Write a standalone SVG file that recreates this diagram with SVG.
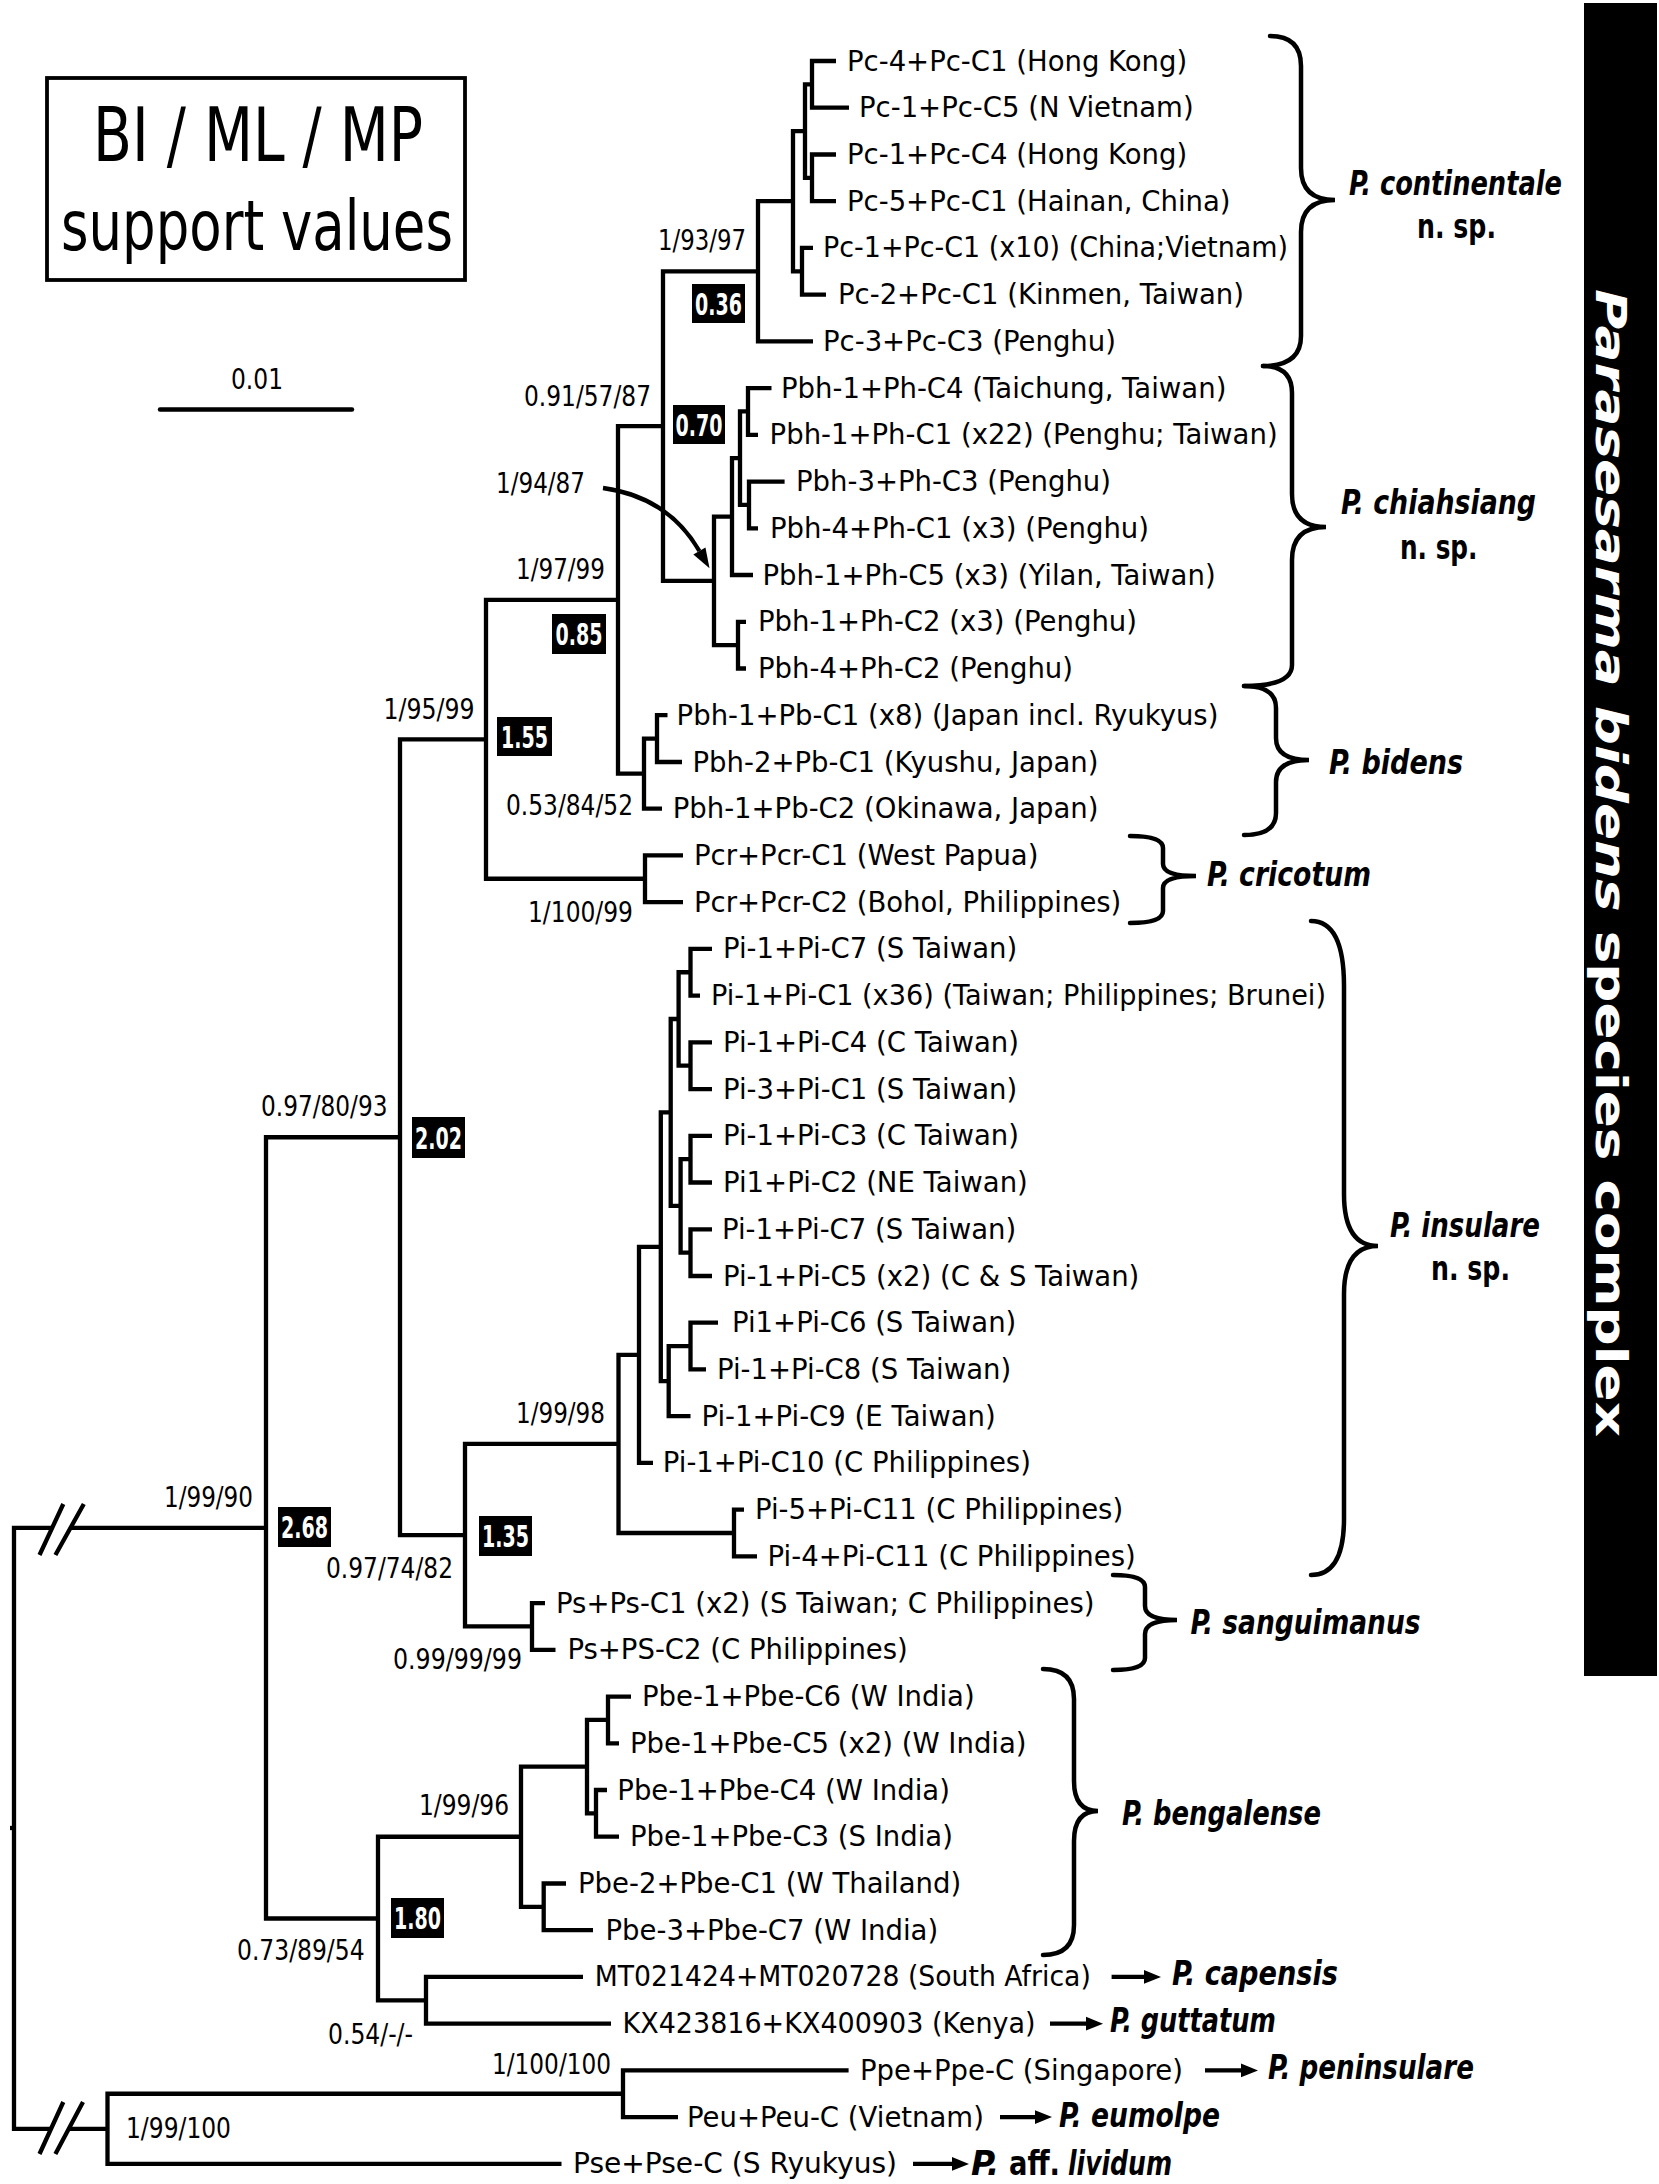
<svg xmlns="http://www.w3.org/2000/svg" width="1659" height="2184" viewBox="0 0 1659 2184">
<style>
.br{fill:none;stroke:#000;stroke-width:4.3;stroke-linejoin:miter}
.brace{fill:none;stroke:#000;stroke-width:4.5;stroke-linecap:round}
.tip{font-family:"DejaVu Sans","Liberation Sans",sans-serif;font-size:27.5px;fill:#000}
.sv{font-family:"DejaVu Sans Condensed","DejaVu Sans",sans-serif;font-size:28px;fill:#000}
.bx{fill:#000}
.bxt{font-family:"DejaVu Sans Condensed","DejaVu Sans",sans-serif;font-size:31px;font-weight:bold;fill:#fff;text-anchor:middle}
.sp{font-family:"DejaVu Sans","Liberation Sans",sans-serif;font-size:33px;font-weight:bold;font-style:italic;fill:#000}
.nsp{font-family:"DejaVu Sans","Liberation Sans",sans-serif;font-size:33px;font-weight:bold;fill:#000}
.leg{font-family:"DejaVu Sans Condensed","DejaVu Sans",sans-serif;fill:#000;text-anchor:middle}
</style>

<g id="legend">
<rect x="47" y="78" width="418" height="202" fill="none" stroke="#000" stroke-width="3.8"/>
<text class="leg" x="258" y="161" font-size="74" textLength="330" lengthAdjust="spacingAndGlyphs">BI / ML / MP</text>
<text class="leg" x="257" y="250" font-size="70" textLength="392" lengthAdjust="spacingAndGlyphs">support values</text>
</g>

<g id="scalebar">
<line x1="160" y1="409.6" x2="352" y2="409.6" stroke="#000" stroke-width="4.5" stroke-linecap="round"/>
<text class="sv" x="231" y="388.6" font-size="30" textLength="52" lengthAdjust="spacingAndGlyphs">0.01</text>
</g>

<g id="complex-bar">
<rect x="1584" y="3" width="73" height="1673" fill="#000"/>
<text transform="rotate(90)" x="289" y="-1596" font-family="DejaVu Sans, Liberation Sans, sans-serif" font-size="42" font-weight="bold" fill="#fff" textLength="1148" lengthAdjust="spacingAndGlyphs"><tspan font-style="italic">Parasesarma bidens</tspan> species complex</text>
</g>

<g id="connectors">
<path class="br" d="M836,61 H812 V107.7 H849"/>
<path class="br" d="M836,154.5 H812 V201.2 H836"/>
<path class="br" d="M812,84.35 H805 V177.85 H812"/>
<path class="br" d="M813,247.9 H802 V294.7 H826"/>
<path class="br" d="M805,131.1 H793 V271.3 H802"/>
<path class="br" d="M793,201.2 H758 V341.4 H813"/>
<path class="br" d="M771.5,388.1 H748 V434.8 H758"/>
<path class="br" d="M784.6,481.6 H749 V528.3 H758"/>
<path class="br" d="M748,411.45 H740 V504.95 H749"/>
<path class="br" d="M740,458.2 H732 V575 H753"/>
<path class="br" d="M746,621.8 H738 V668.5 H746"/>
<path class="br" d="M732,516.6 H714 V645.15 H738"/>
<path class="br" d="M758,271.3 H663 V580.9 H714"/>
<path class="br" d="M667.5,715.2 H657 V762 H682"/>
<path class="br" d="M657,738.6 H644 V808.7 H662"/>
<path class="br" d="M663,426.1 H618 V773.65 H644"/>
<path class="br" d="M683,855.4 H645 V902.1 H683"/>
<path class="br" d="M618,599.9 H486 V878.75 H645"/>
<path class="br" d="M712,948.9 H690.5 V995.6 H700"/>
<path class="br" d="M712,1042.3 H690.5 V1089.1 H712"/>
<path class="br" d="M690.5,972.25 H678.6 V1065.7 H690.5"/>
<path class="br" d="M712,1135.8 H690.5 V1182.5 H712"/>
<path class="br" d="M712,1229.3 H690.5 V1276 H712"/>
<path class="br" d="M690.5,1159.15 H680.6 V1252.65 H690.5"/>
<path class="br" d="M678.6,1018.98 H670.7 V1205.9 H680.6"/>
<path class="br" d="M718,1322.7 H690.5 V1369.4 H706"/>
<path class="br" d="M690.5,1346.05 H668.7 V1416.2 H690.5"/>
<path class="br" d="M670.7,1112.44 H660.8 V1381.1 H668.7"/>
<path class="br" d="M660.8,1246.8 H639 V1462.9 H653"/>
<path class="br" d="M744,1509.6 H734 V1556.4 H757"/>
<path class="br" d="M639,1354.85 H618.5 V1533 H734"/>
<path class="br" d="M545,1603.1 H532 V1649.8 H555.5"/>
<path class="br" d="M618.5,1443.9 H465 V1626.45 H532"/>
<path class="br" d="M486,739.3 H400 V1535.2 H465"/>
<path class="br" d="M631,1696.6 H608 V1743.3 H619"/>
<path class="br" d="M607,1790 H596 V1836.7 H619"/>
<path class="br" d="M608,1719.95 H587 V1813.35 H596"/>
<path class="br" d="M566,1883.5 H543.7 V1930.2 H593"/>
<path class="br" d="M587,1766.65 H521 V1906.85 H543.7"/>
<path class="br" d="M583,1976.9 H426 V2023.7 H611"/>
<path class="br" d="M521,1836.75 H378 V2000.3 H426"/>
<path class="br" d="M400,1137.25 H266 V1918.5 H378"/>
<path class="br" d="M848.6,2070.4 H623 V2117.1 H678"/>
<path class="br" d="M623,2093.75 H107.5 V2163.9 H561.5"/>
<path class="br" d="M70,1527.9 H266"/>
<path class="br" d="M52,1527.9 H14 V2128.8 H51"/>
<path class="br" d="M68.8,2128.8 H107.5"/>
<path class="br" d="M10,1828 H14"/>
<path class="br" d="M39.5,1555 L63.3,1504 M55.4,1555 L83.8,1504 M39.5,2154 L63.3,2102 M55.4,2154 L83,2102"/>
<path class="br" d="M603,488 Q668,497 699.4,551"/>
<polygon points="709.5,568.3 693.35,554.5 705.45,547.5" fill="#000"/>
<path class="br" d="M1111.6,1976.9 H1146"/>
<polygon points="1161,1976.9 1144,1970 1144,1983.8" fill="#000"/>
<path class="br" d="M1050,2023.7 H1088"/>
<polygon points="1103,2023.7 1086,2016.8 1086,2030.6" fill="#000"/>
<path class="br" d="M1205,2070.4 H1243"/>
<polygon points="1258,2070.4 1241,2063.5 1241,2077.3" fill="#000"/>
<path class="br" d="M1000,2117.1 H1037"/>
<polygon points="1052,2117.1 1035,2110.2 1035,2124" fill="#000"/>
<path class="br" d="M913,2163.9 H954"/>
<polygon points="969,2163.9 952,2157 952,2170.8" fill="#000"/>
</g>

<g id="braces">
<path class="brace" d="M1270,36 Q1301,36 1301,66 V168 Q1301,200 1335,200 Q1301,200 1301,232 V336 Q1301,366 1263,366"/>
<path class="brace" d="M1263,366 Q1292,366 1292,393 V494 Q1292,527 1326,527 Q1292,527 1292,560 V665 Q1292,686 1244,686"/>
<path class="brace" d="M1244,686 Q1276,686 1276,708 V738 Q1276,760 1309,760 Q1276,760 1276,782 V813 Q1276,835 1244,835"/>
<path class="brace" d="M1130,836 Q1163,836 1163,848 V864 Q1163,876 1196,876 Q1163,876 1163,888 V911 Q1163,923 1130,923"/>
<path class="brace" d="M1311,921 Q1344,921 1344,986 V1194 Q1344,1246 1378,1246 Q1344,1246 1344,1294 V1519 Q1344,1575 1311,1575"/>
<path class="brace" d="M1113,1575 Q1145,1575 1145,1587 V1606 Q1145,1620 1177,1620 Q1145,1620 1145,1634 V1658 Q1145,1670 1113,1670"/>
<path class="brace" d="M1043,1669 Q1074,1669 1074,1699 V1781 Q1074,1811 1098,1811 Q1074,1811 1074,1841 V1925 Q1074,1955 1043,1955"/>
</g>

<g id="support-values">
<text class="sv" x="658" y="250" textLength="88" lengthAdjust="spacingAndGlyphs">1/93/97</text>
<text class="sv" x="524" y="406" textLength="127" lengthAdjust="spacingAndGlyphs">0.91/57/87</text>
<text class="sv" x="496" y="493" textLength="89" lengthAdjust="spacingAndGlyphs">1/94/87</text>
<text class="sv" x="516" y="579" textLength="89" lengthAdjust="spacingAndGlyphs">1/97/99</text>
<text class="sv" x="383.5" y="718.6" textLength="91" lengthAdjust="spacingAndGlyphs">1/95/99</text>
<text class="sv" x="506" y="815" textLength="127" lengthAdjust="spacingAndGlyphs">0.53/84/52</text>
<text class="sv" x="528" y="922" textLength="105" lengthAdjust="spacingAndGlyphs">1/100/99</text>
<text class="sv" x="261" y="1116" textLength="126.5" lengthAdjust="spacingAndGlyphs">0.97/80/93</text>
<text class="sv" x="516" y="1423" textLength="89" lengthAdjust="spacingAndGlyphs">1/99/98</text>
<text class="sv" x="164" y="1507" textLength="89" lengthAdjust="spacingAndGlyphs">1/99/90</text>
<text class="sv" x="326" y="1578" textLength="127" lengthAdjust="spacingAndGlyphs">0.97/74/82</text>
<text class="sv" x="393" y="1668.6" textLength="129" lengthAdjust="spacingAndGlyphs">0.99/99/99</text>
<text class="sv" x="419" y="1815" textLength="90" lengthAdjust="spacingAndGlyphs">1/99/96</text>
<text class="sv" x="237" y="1960" textLength="127.6" lengthAdjust="spacingAndGlyphs">0.73/89/54</text>
<text class="sv" x="328" y="2043.7" textLength="85" lengthAdjust="spacingAndGlyphs">0.54/-/-</text>
<text class="sv" x="492" y="2074" textLength="119" lengthAdjust="spacingAndGlyphs">1/100/100</text>
<text class="sv" x="126" y="2138" textLength="105" lengthAdjust="spacingAndGlyphs">1/99/100</text>
</g>

<g id="node-ages">
<g id="age-036"><rect class="bx" x="692" y="284" width="53" height="39"/><text class="bxt" x="718.5" y="314.5" textLength="47" lengthAdjust="spacingAndGlyphs">0.36</text></g>
<g id="age-070"><rect class="bx" x="673" y="405" width="52" height="39"/><text class="bxt" x="699" y="435.5" textLength="47" lengthAdjust="spacingAndGlyphs">0.70</text></g>
<g id="age-085"><rect class="bx" x="552" y="614" width="54" height="40"/><text class="bxt" x="579" y="645" textLength="47" lengthAdjust="spacingAndGlyphs">0.85</text></g>
<g id="age-155"><rect class="bx" x="497" y="717" width="55" height="39"/><text class="bxt" x="524.5" y="747.5" textLength="47" lengthAdjust="spacingAndGlyphs">1.55</text></g>
<g id="age-202"><rect class="bx" x="412" y="1117" width="53" height="41"/><text class="bxt" x="438.5" y="1148.5" textLength="47" lengthAdjust="spacingAndGlyphs">2.02</text></g>
<g id="age-135"><rect class="bx" x="479" y="1516" width="53" height="40"/><text class="bxt" x="505.5" y="1547" textLength="47" lengthAdjust="spacingAndGlyphs">1.35</text></g>
<g id="age-268"><rect class="bx" x="278" y="1507" width="53" height="40"/><text class="bxt" x="304.5" y="1538" textLength="47" lengthAdjust="spacingAndGlyphs">2.68</text></g>
<g id="age-180"><rect class="bx" x="391" y="1898" width="53" height="40"/><text class="bxt" x="417.5" y="1929" textLength="47" lengthAdjust="spacingAndGlyphs">1.80</text></g>
</g>

<g id="tips">
<g id="tip-00"><text class="tip" x="847" y="70.5">Pc-4+Pc-C1 (Hong Kong)</text></g>
<g id="tip-01"><text class="tip" x="859" y="117.2">Pc-1+Pc-C5 (N Vietnam)</text></g>
<g id="tip-02"><text class="tip" x="847" y="164">Pc-1+Pc-C4 (Hong Kong)</text></g>
<g id="tip-03"><text class="tip" x="847" y="210.7">Pc-5+Pc-C1 (Hainan, China)</text></g>
<g id="tip-04"><text class="tip" x="823" y="257.4" textLength="465" lengthAdjust="spacingAndGlyphs">Pc-1+Pc-C1 (x10) (China;Vietnam)</text></g>
<g id="tip-05"><text class="tip" x="838" y="304.2">Pc-2+Pc-C1 (Kinmen, Taiwan)</text></g>
<g id="tip-06"><text class="tip" x="823" y="350.9">Pc-3+Pc-C3 (Penghu)</text></g>
<g id="tip-07"><text class="tip" x="781" y="397.6">Pbh-1+Ph-C4 (Taichung, Taiwan)</text></g>
<g id="tip-08"><text class="tip" x="769.6" y="444.3">Pbh-1+Ph-C1 (x22) (Penghu; Taiwan)</text></g>
<g id="tip-09"><text class="tip" x="796" y="491.1">Pbh-3+Ph-C3 (Penghu)</text></g>
<g id="tip-10"><text class="tip" x="770" y="537.8">Pbh-4+Ph-C1 (x3) (Penghu)</text></g>
<g id="tip-11"><text class="tip" x="762.5" y="584.5">Pbh-1+Ph-C5 (x3) (Yilan, Taiwan)</text></g>
<g id="tip-12"><text class="tip" x="758" y="631.3">Pbh-1+Ph-C2 (x3) (Penghu)</text></g>
<g id="tip-13"><text class="tip" x="758" y="678">Pbh-4+Ph-C2 (Penghu)</text></g>
<g id="tip-14"><text class="tip" x="676.6" y="724.7">Pbh-1+Pb-C1 (x8) (Japan incl. Ryukyus)</text></g>
<g id="tip-15"><text class="tip" x="692.5" y="771.5">Pbh-2+Pb-C1 (Kyushu, Japan)</text></g>
<g id="tip-16"><text class="tip" x="672.7" y="818.2">Pbh-1+Pb-C2 (Okinawa, Japan)</text></g>
<g id="tip-17"><text class="tip" x="694" y="864.9">Pcr+Pcr-C1 (West Papua)</text></g>
<g id="tip-18"><text class="tip" x="694" y="911.6">Pcr+Pcr-C2 (Bohol, Philippines)</text></g>
<g id="tip-19"><text class="tip" x="723" y="958.4">Pi-1+Pi-C7 (S Taiwan)</text></g>
<g id="tip-20"><text class="tip" x="711" y="1005.1" textLength="615" lengthAdjust="spacingAndGlyphs">Pi-1+Pi-C1 (x36) (Taiwan; Philippines; Brunei)</text></g>
<g id="tip-21"><text class="tip" x="723" y="1051.8">Pi-1+Pi-C4 (C Taiwan)</text></g>
<g id="tip-22"><text class="tip" x="723" y="1098.6">Pi-3+Pi-C1 (S Taiwan)</text></g>
<g id="tip-23"><text class="tip" x="723" y="1145.3">Pi-1+Pi-C3 (C Taiwan)</text></g>
<g id="tip-24"><text class="tip" x="723" y="1192">Pi1+Pi-C2 (NE Taiwan)</text></g>
<g id="tip-25"><text class="tip" x="722" y="1238.8">Pi-1+Pi-C7 (S Taiwan)</text></g>
<g id="tip-26"><text class="tip" x="723" y="1285.5">Pi-1+Pi-C5 (x2) (C &amp; S Taiwan)</text></g>
<g id="tip-27"><text class="tip" x="732" y="1332.2">Pi1+Pi-C6 (S Taiwan)</text></g>
<g id="tip-28"><text class="tip" x="717" y="1378.9">Pi-1+Pi-C8 (S Taiwan)</text></g>
<g id="tip-29"><text class="tip" x="701.5" y="1425.7">Pi-1+Pi-C9 (E Taiwan)</text></g>
<g id="tip-30"><text class="tip" x="662.8" y="1472.4">Pi-1+Pi-C10 (C Philippines)</text></g>
<g id="tip-31"><text class="tip" x="755" y="1519.1">Pi-5+Pi-C11 (C Philippines)</text></g>
<g id="tip-32"><text class="tip" x="767.6" y="1565.9">Pi-4+Pi-C11 (C Philippines)</text></g>
<g id="tip-33"><text class="tip" x="556" y="1612.6">Ps+Ps-C1 (x2) (S Taiwan; C Philippines)</text></g>
<g id="tip-34"><text class="tip" x="567.4" y="1659.3">Ps+PS-C2 (C Philippines)</text></g>
<g id="tip-35"><text class="tip" x="642" y="1706.1">Pbe-1+Pbe-C6 (W India)</text></g>
<g id="tip-36"><text class="tip" x="630" y="1752.8">Pbe-1+Pbe-C5 (x2) (W India)</text></g>
<g id="tip-37"><text class="tip" x="617.3" y="1799.5">Pbe-1+Pbe-C4 (W India)</text></g>
<g id="tip-38"><text class="tip" x="630" y="1846.2">Pbe-1+Pbe-C3 (S India)</text></g>
<g id="tip-39"><text class="tip" x="578" y="1893">Pbe-2+Pbe-C1 (W Thailand)</text></g>
<g id="tip-40"><text class="tip" x="605.5" y="1939.7">Pbe-3+Pbe-C7 (W India)</text></g>
<g id="tip-41"><text class="tip" x="594.8" y="1986.4" textLength="496" lengthAdjust="spacingAndGlyphs">MT021424+MT020728 (South Africa)</text></g>
<g id="tip-42"><text class="tip" x="622.5" y="2033.2" textLength="413" lengthAdjust="spacingAndGlyphs">KX423816+KX400903 (Kenya)</text></g>
<g id="tip-43"><text class="tip" x="860" y="2079.9">Ppe+Ppe-C (Singapore)</text></g>
<g id="tip-44"><text class="tip" x="687" y="2126.6">Peu+Peu-C (Vietnam)</text></g>
<g id="tip-45"><text class="tip" x="573" y="2173.4" textLength="324" lengthAdjust="spacingAndGlyphs">Pse+Pse-C (S Ryukyus)</text></g>
</g>

<g id="species">
<g id="sp-continentale"><text class="sp" x="1349" y="194.6" textLength="213" lengthAdjust="spacingAndGlyphs">P. continentale</text><text class="nsp" x="1417" y="237.5" textLength="79" lengthAdjust="spacingAndGlyphs">n. sp.</text></g>
<g id="sp-chiahsiang"><text class="sp" x="1341" y="514" textLength="195" lengthAdjust="spacingAndGlyphs">P. chiahsiang</text><text class="nsp" x="1400" y="559" textLength="77.5" lengthAdjust="spacingAndGlyphs">n. sp.</text></g>
<g id="sp-bidens"><text class="sp" x="1329" y="774" textLength="134" lengthAdjust="spacingAndGlyphs">P. bidens</text></g>
<g id="sp-cricotum"><text class="sp" x="1207" y="886" textLength="164" lengthAdjust="spacingAndGlyphs">P. cricotum</text></g>
<g id="sp-insulare"><text class="sp" x="1390" y="1237" textLength="150" lengthAdjust="spacingAndGlyphs">P. insulare</text><text class="nsp" x="1431" y="1280" textLength="79" lengthAdjust="spacingAndGlyphs">n. sp.</text></g>
<g id="sp-sanguimanus"><text class="sp" x="1190.5" y="1634" textLength="230" lengthAdjust="spacingAndGlyphs">P. sanguimanus</text></g>
<g id="sp-bengalense"><text class="sp" x="1122" y="1825" textLength="199" lengthAdjust="spacingAndGlyphs">P. bengalense</text></g>
<g id="sp-capensis"><text class="sp" x="1172" y="1985" textLength="166" lengthAdjust="spacingAndGlyphs">P. capensis</text></g>
<g id="sp-guttatum"><text class="sp" x="1110" y="2032" textLength="166" lengthAdjust="spacingAndGlyphs">P. guttatum</text></g>
<g id="sp-peninsulare"><text class="sp" x="1268" y="2079" textLength="206" lengthAdjust="spacingAndGlyphs">P. peninsulare</text></g>
<g id="sp-eumolpe"><text class="sp" x="1059" y="2127" textLength="161" lengthAdjust="spacingAndGlyphs">P. eumolpe</text></g>
<g id="sp-lividum"><text class="sp" x="971" y="2175">P.</text><text class="nsp" x="1009" y="2175" textLength="51" lengthAdjust="spacingAndGlyphs">aff.</text><text class="sp" x="1068" y="2175" textLength="104" lengthAdjust="spacingAndGlyphs">lividum</text></g>
</g>
</svg>
